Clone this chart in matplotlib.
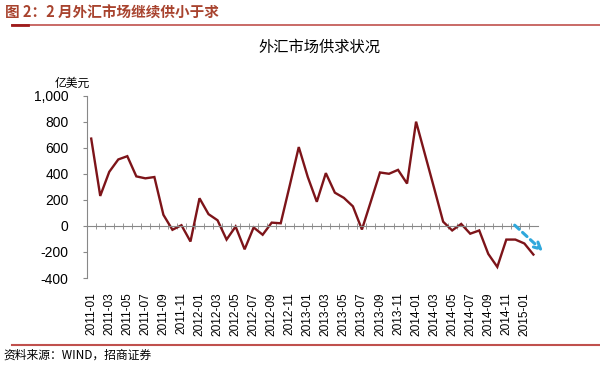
import numpy as np
import matplotlib.pyplot as plt
from matplotlib.lines import Line2D

plt.rcParams['font.family'] = ['Noto Sans CJK SC', 'DejaVu Sans']

# monthly net FX supply, 2011-01 .. 2015-02 (亿美元)
months = ['%d-%02d' % (y, m) for y in range(2011, 2016) for m in range(1, 13)][:50]
values = [670, 230, 415, 510, 535, 380, 365, 375, 85, -30,
          5, -120, 212, 90, 43, -105, -5, -180, -12, -68,
          25, 20, 310, 605, 375, 185, 405, 255, 215, 150,
          -28, 190, 410, 400, 430, 325, 800, 545, 290, 32,
          -35, 15, -60, -35, -215, -315, -105, -105, -135, -220]
yticks = [-400, -200, 0, 200, 400, 600, 800, 1000]

line_col = '#7d1419'
num_font = 'Liberation Sans'

fig = plt.figure(figsize=(6, 3.67), dpi=100)
ax = fig.add_axes([0.1445, 0.2425, 0.752, 0.497])

x = np.arange(len(values))
ax.plot(x, values, color=line_col, lw=1.7, solid_joinstyle='miter')

ax.set_xlim(-0.5, len(values) - 0.5)
ax.set_ylim(-400, 1000)

# zero line with category ticks
ax.spines['bottom'].set_position(('data', 0))
ax.spines['bottom'].set_color('#888888')
ax.spines['top'].set_visible(False)
ax.spines['right'].set_visible(False)
ax.spines['left'].set_color('#888888')
ax.set_xticks(x[:-1] + 0.5, minor=True)
ax.set_xticks([])
ax.tick_params(axis='x', which='minor', direction='inout', length=4, color='#888888')

ax.set_yticks(yticks)
ax.set_yticklabels(['{:,}'.format(v) for v in yticks], fontfamily=num_font, fontsize=10)
ax.tick_params(axis='y', direction='out', length=3, color='#888888', pad=10)

# date labels at the bottom
sec = ax.secondary_xaxis(0.0)
sec.spines['bottom'].set_visible(False)
sec.set_xticks(x[::2])
sec.set_xticklabels(months[::2], rotation=90, fontfamily=num_font, fontsize=8.6)
sec.tick_params(axis='x', length=0, pad=10)

ax.text(-0.07, 1.03, '亿美元', transform=ax.transAxes, fontsize=8.5, ha='left', va='bottom')
fig.text(0.533, 0.872, '外汇市场供求状况', fontsize=11, ha='center', va='center')

# blue dashed trend arrow
ax.annotate('', xy=(50.3, -210), xytext=(46.7, 20),
            arrowprops=dict(arrowstyle='->', lw=2.2, linestyle=(0, (2, 1.5)),
                            color='#2fa8dc', mutation_scale=12),
            annotation_clip=False)

# header / footer
fig.text(0.008, 0.965, '图 2：2 月外汇市场继续供小于求', fontsize=10.5, fontweight='bold',
         color='#a8432e', ha='left', va='center')
fig.add_artist(Line2D([0.02, 1.0], [0.932, 0.932], color='#c0504d', lw=1.2))
fig.add_artist(Line2D([0.02, 0.047], [0.932, 0.932], color='#9e1b1b', lw=2))
fig.add_artist(Line2D([0.02, 1.0], [0.06, 0.06], color='#c0504d', lw=1.5))
fig.text(0.005, 0.032, '资料来源：WIND，招商证券', fontsize=8.5, ha='left', va='center')

fig.savefig('out.png', dpi=100)
